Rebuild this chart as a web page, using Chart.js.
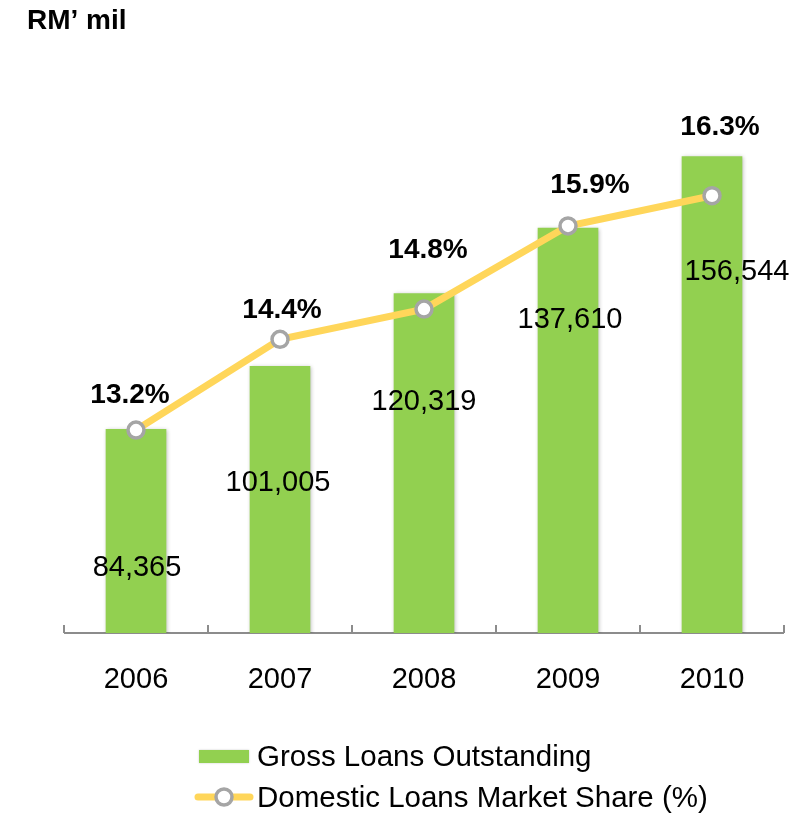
<!DOCTYPE html>
<html>
<head>
<meta charset="utf-8">
<title>Gross Loans Outstanding</title>
<script src="https://cdn.jsdelivr.net/npm/chart.js@4.4.0/dist/chart.umd.min.js"></script>
<style>
  html, body { margin: 0; padding: 0; background: #fff; }
  #wrap { position: relative; width: 810px; height: 815px; }
</style>
</head>
<body>
<div id="wrap"><canvas id="loanChart"></canvas></div>
<script>
// Data
const years = ['2006', '2007', '2008', '2009', '2010'];
const grossLoans = [84365, 101005, 120319, 137610, 156544];   // RM' mil
const marketShare = [13.2, 14.4, 14.8, 15.9, 16.3];          // %

// Label nudges in px: [dx, dy] from bar top / line point
const loanLabelShift = [[1, 139], [-2, 117], [0, 108], [2, 92], [25, 115]];
const shareLabelShift = [[-6, -35], [2, -29], [4, -59], [22, -41], [8, -68]];

const GREEN = '#92D050';
const YELLOW = '#FFD65A';
const GREY = '#A5A5A5';
const FONT = '"Liberation Sans", Arial, sans-serif';

function drawMarker(ctx, x, y) {
    ctx.beginPath();
    ctx.arc(x, y, 8, 0, Math.PI * 2);
    ctx.fillStyle = '#fff';
    ctx.fill();
    ctx.lineWidth = 3.5;
    ctx.strokeStyle = GREY;
    ctx.stroke();
}

const decorations = {
    id: 'decorations',
    beforeDatasetsDraw(chart) {
        const { ctx, chartArea } = chart;
        // baseline with small upward ticks between categories
        ctx.save();
        ctx.strokeStyle = '#8C8C8C';
        ctx.lineWidth = 2;
        ctx.beginPath();
        ctx.moveTo(chartArea.left, chartArea.bottom);
        ctx.lineTo(chartArea.right, chartArea.bottom);
        const step = (chartArea.right - chartArea.left) / years.length;
        for (let i = 0; i <= years.length; i++) {
            const px = chartArea.left + i * step;
            ctx.moveTo(px, chartArea.bottom);
            ctx.lineTo(px, chartArea.bottom - 8);
        }
        ctx.stroke();
        ctx.restore();
    },
    beforeDatasetDraw(chart, args) {
        const ctx = chart.ctx;
        ctx.save();
        if (args.index === 0) {
            ctx.shadowColor = 'rgba(0,0,0,0.28)';
            ctx.shadowBlur = 4;
            ctx.shadowOffsetX = 1;
            ctx.shadowOffsetY = 1;
        }
    },
    afterDatasetDraw(chart) {
        chart.ctx.restore();
    },
    afterDatasetsDraw(chart) {
        const ctx = chart.ctx;
        const bars = chart.getDatasetMeta(0).data;
        const pts = chart.getDatasetMeta(1).data;
        ctx.save();
        ctx.textAlign = 'center';
        ctx.textBaseline = 'middle';
        ctx.fillStyle = '#000';

        ctx.font = '29px ' + FONT;
        bars.forEach((bar, i) => {
            const [dx, dy] = loanLabelShift[i];
            ctx.fillText(grossLoans[i].toLocaleString('en-US'), bar.x + dx, bar.y + dy);
        });

        ctx.font = 'bold 28px ' + FONT;
        pts.forEach((pt, i) => {
            const [dx, dy] = shareLabelShift[i];
            ctx.fillText(marketShare[i].toFixed(1) + '%', pt.x + dx, pt.y + dy);
        });
        ctx.restore();
    },
    afterDraw(chart) {
        const ctx = chart.ctx;
        ctx.save();
        // unit caption
        ctx.fillStyle = '#000';
        ctx.textAlign = 'left';
        ctx.textBaseline = 'alphabetic';
        ctx.font = 'bold 28px ' + FONT;
        ctx.fillText('RM\u2019 mil', 27, 29);

        // legend
        ctx.save();
        ctx.shadowColor = 'rgba(0,0,0,0.2)';
        ctx.shadowBlur = 2;
        ctx.fillStyle = GREEN;
        ctx.fillRect(199, 750, 50, 13);
        ctx.restore();

        ctx.strokeStyle = YELLOW;
        ctx.lineWidth = 7;
        ctx.lineCap = 'round';
        ctx.beginPath();
        ctx.moveTo(198, 797);
        ctx.lineTo(250, 797);
        ctx.stroke();
        drawMarker(ctx, 224, 797);

        ctx.fillStyle = '#000';
        ctx.font = '29.5px ' + FONT;
        ctx.fillText(chart.data.datasets[0].label, 257, 766);
        ctx.fillText(chart.data.datasets[1].label, 257, 807);
        ctx.restore();
    }
};

new Chart(document.getElementById('loanChart'), {
    data: {
        labels: years,
        datasets: [
            {
                type: 'bar',
                label: 'Gross Loans Outstanding',
                data: grossLoans,
                yAxisID: 'y',
                backgroundColor: GREEN,
                borderWidth: 0,
                barThickness: 60,
                order: 1
            },
            {
                type: 'line',
                label: 'Domestic Loans Market Share (%)',
                data: marketShare,
                yAxisID: 'y1',
                borderColor: YELLOW,
                borderWidth: 7,
                tension: 0,
                pointRadius: 8,
                pointHoverRadius: 8,
                pointBackgroundColor: '#fff',
                pointBorderColor: GREY,
                pointBorderWidth: 3.5,
                order: 0
            }
        ]
    },
    options: {
        responsive: true,
        maintainAspectRatio: false,
        animation: false,
        layout: { padding: { top: 100, left: 64, right: 26, bottom: 102 } },
        plugins: {
            legend: { display: false },
            tooltip: { enabled: false }
        },
        scales: {
            x: {
                offset: true,
                grid: { display: false, drawTicks: false },
                border: { display: false },
                ticks: {
                    color: '#000',
                    padding: 30,
                    font: { family: FONT, size: 29 }
                },
                afterFit(scale) { scale.height = 80; }
            },
            y: { display: false, min: 30430, max: 171555 },
            y1: { display: false, min: 10.516, max: 17.566 }
        }
    },
    plugins: [decorations]
});
</script>
</body>
</html>
